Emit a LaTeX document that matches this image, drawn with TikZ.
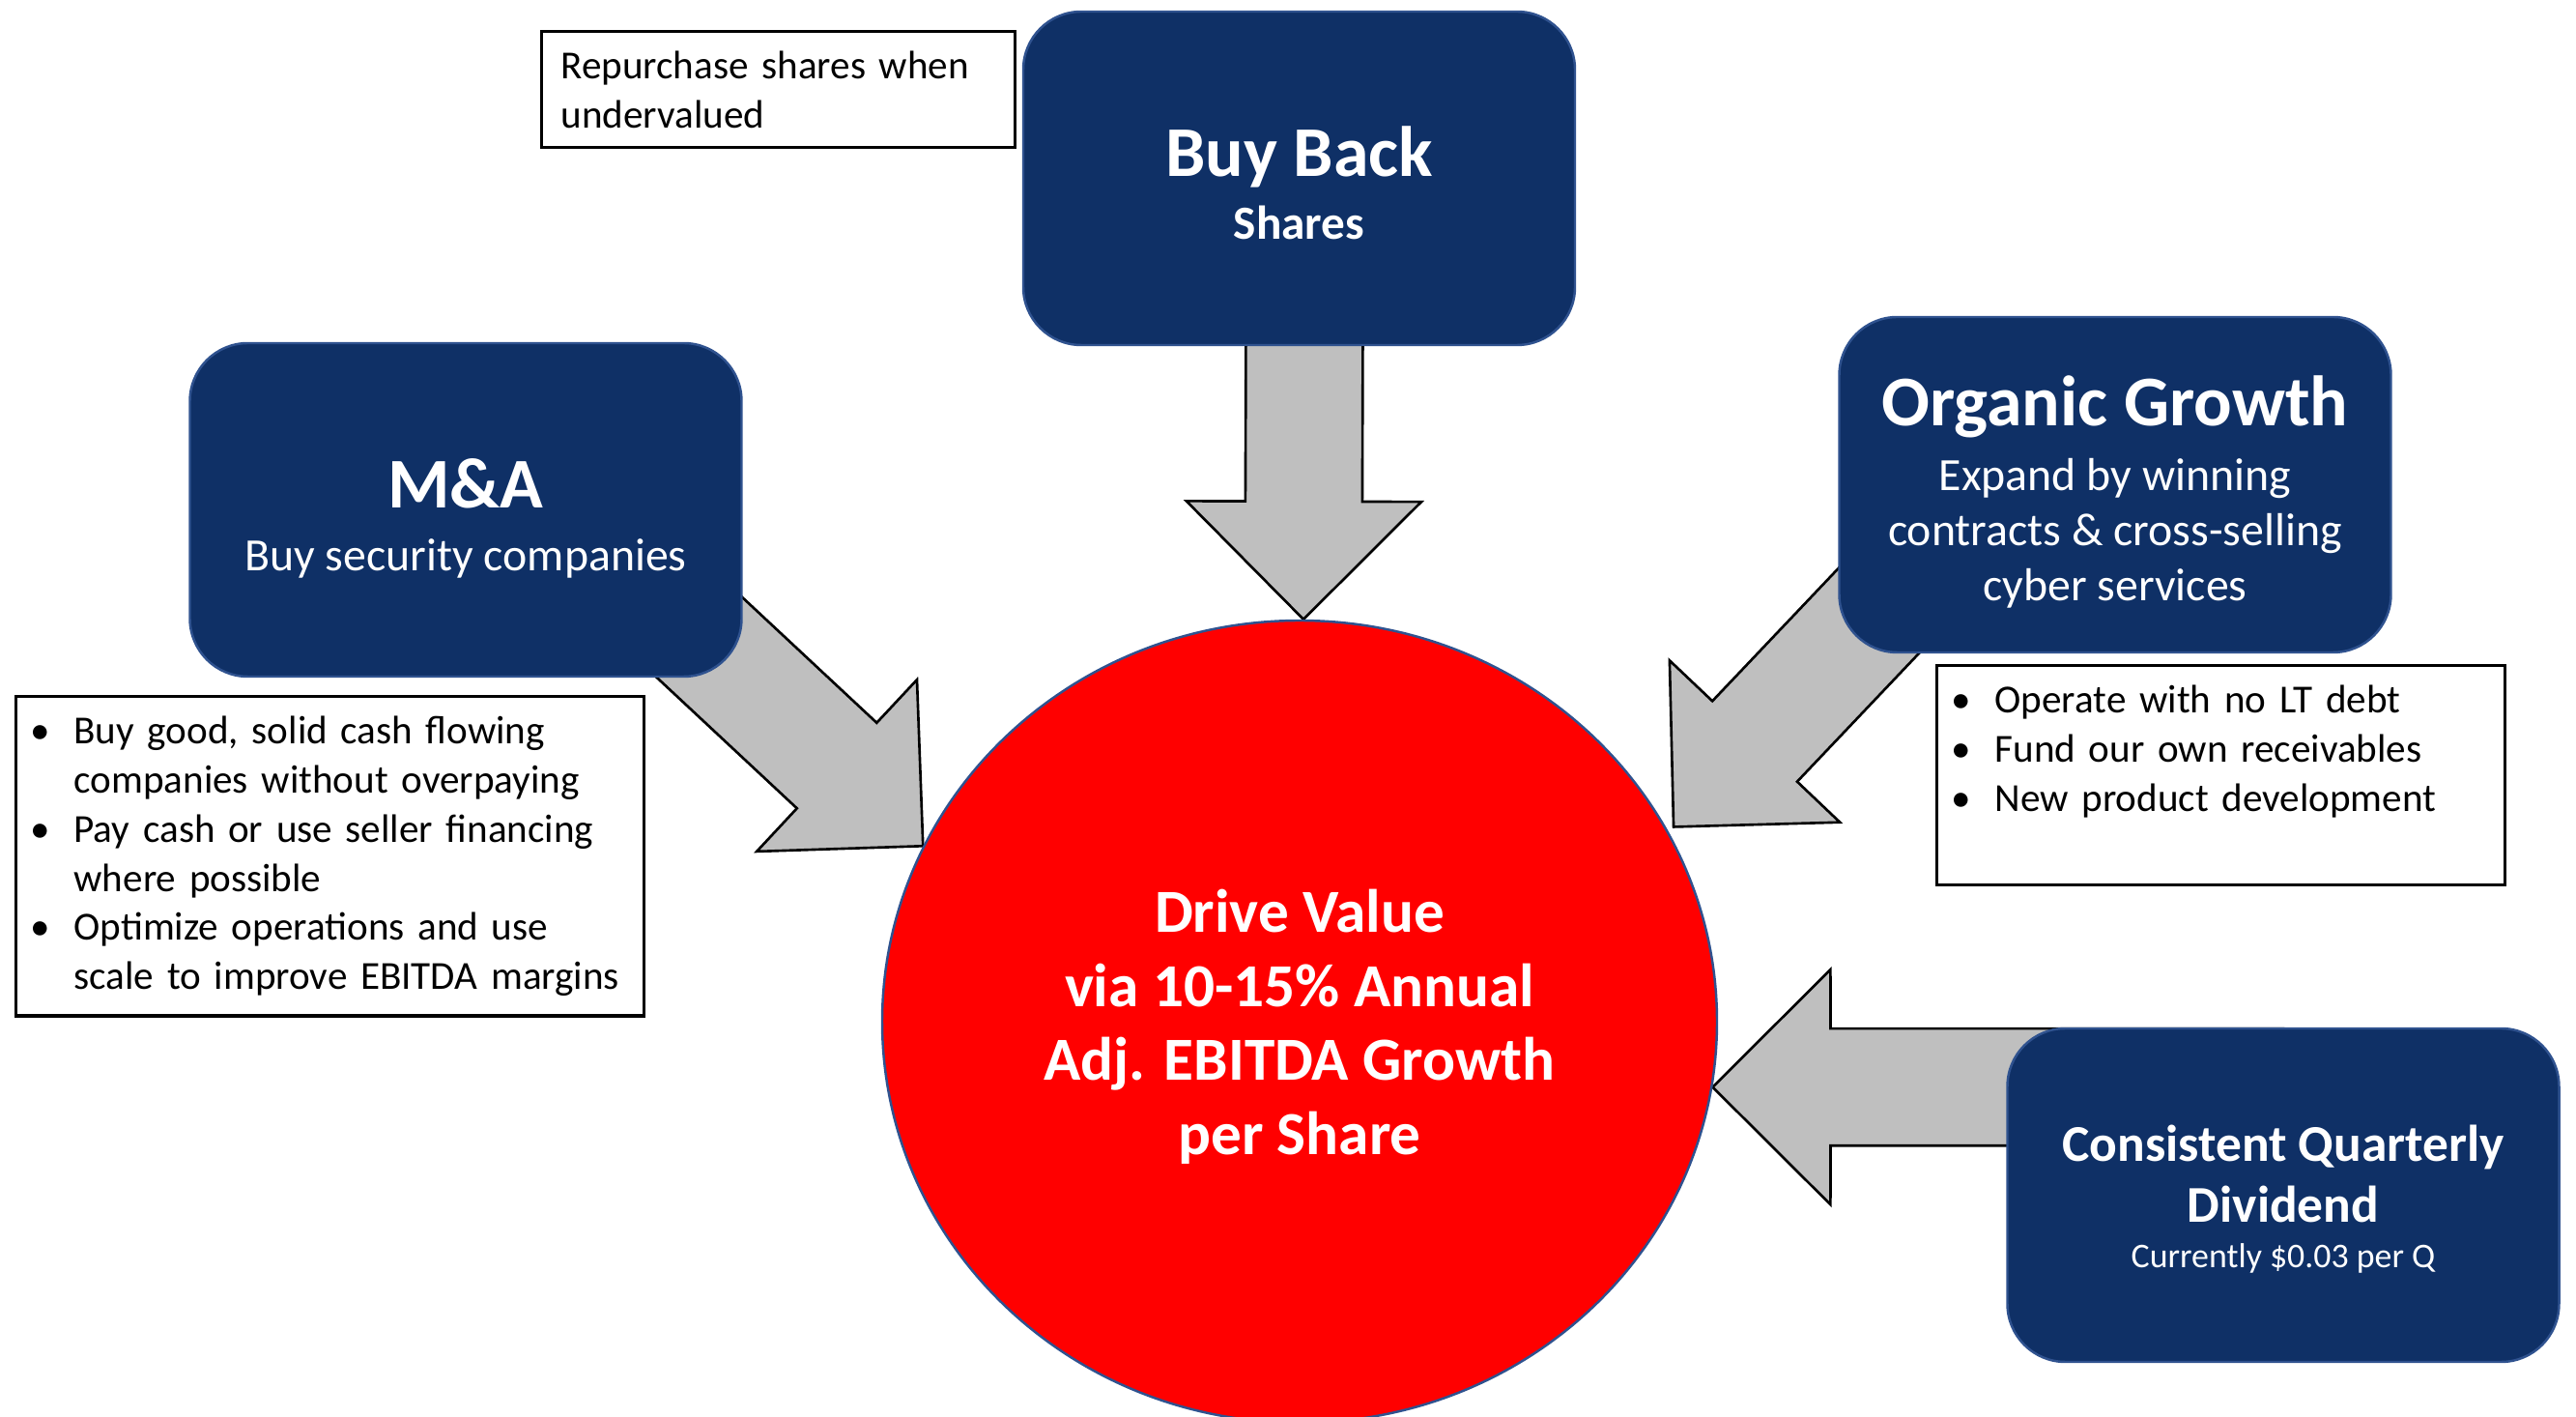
\documentclass[tikz,border=0pt]{standalone}
\usepackage{fontspec}
\setmainfont{Carlito}
\usepackage{tikz}
\usetikzlibrary{calc}
\usetikzlibrary{shapes.geometric}
\pgfdeclarelayer{background}
\pgfsetlayers{background,main}

\definecolor{navy}{HTML}{0F3066}
\definecolor{navyedge}{HTML}{2F528F}
\definecolor{arrowgray}{HTML}{BFBFBF}

\newcommand{\boxtitle}{\fontsize{21}{25}\selectfont\bfseries}
\newcommand{\lift}[1]{\rule{0pt}{#1}}
\newcommand{\bulletline}[1]{\hangindent=0.4cm\hangafter=1\makebox[0.4cm][l]{\hspace{-0.05cm}\textbullet}#1\par}
% block arrow from #1 (hidden end) to #2 (tip)
\newcommand{\fatarrow}[2]{%
  \draw[arrowbody] (#2)
    -- ($(#2)!1.722cm!44.9:(#1)$)
    -- ($(#2)!1.362cm!26.38:(#1)$)
    -- ($(#1)!0.605cm!-90:(#2)$)
    -- ($(#1)!0.605cm!90:(#2)$)
    -- ($(#2)!1.362cm!-26.38:(#1)$)
    -- ($(#2)!1.722cm!-44.9:(#1)$)
    -- cycle;}

\begin{document}
\begin{tikzpicture}[
  navybox/.style={rectangle, rounded corners=0.6cm, draw=navyedge, line width=0.7pt,
    fill=navy, text=white, align=center, minimum width=5.71cm, minimum height=3.45cm},
  notebox/.style={rectangle, draw=black, line width=0.9pt, fill=white, align=left,
    inner xsep=0.2cm, inner ysep=0.2cm, anchor=north west,
    font={\fontsize{11.7}{14.5}\selectfont}},
  hub/.style={ellipse, draw=navyedge, line width=0.7pt, fill=red, text=white,
    align=center, inner sep=0pt, minimum width=8.64cm, minimum height=8.30cm,
    font={\fontsize{18}{21.8}\selectfont\bfseries}},
  arrowbody/.style={draw=black, line width=0.75pt, fill=arrowgray}]

  \useasboundingbox (0,0) rectangle (26.66,14.66);

  \node[hub] (core) at (13.45,4.09)
    {\lift{15.7pt}Drive Value\\via 10-15\% Annual\\Adj. EBITDA Growth\\per Share};

  \node[navybox, font={\fontsize{14}{18.5}\selectfont\bfseries}] (buyback) at (13.445,12.815)
    {{\boxtitle\lift{17.2pt}Buy Back}\\Shares};
  \node[navybox, font={\fontsize{13.6}{18.5}\selectfont}] (ma) at (4.82,9.385)
    {{\boxtitle\lift{19.4pt}M\&A}\\Buy security companies};
  \node[navybox, minimum height=3.47cm, font={\fontsize{13.6}{16.2}\selectfont}] (organic) at (21.89,9.645)
    {{\boxtitle\lift{18.8pt}Organic Growth}\\[2.8pt]Expand by winning\\contracts \& cross-selling\\cyber services};
  \node[navybox, font={\fontsize{15.2}{17.9}\selectfont\bfseries}] (dividend) at (23.63,2.295)
    {\lift{13.1pt}Consistent Quarterly\\Dividend\\[-4.5pt]{\fontsize{10.2}{12}\selectfont\mdseries Currently \$0.03 per Q}};

  \node[notebox, text width=4.5cm] (repurchase) at (5.59,14.35)
    {Repurchase shares when\\undervalued};
  \node[notebox, text width=6.1cm] (manotes) at (0.15,7.47)
    {\bulletline{Buy good, solid cash flowing\newline companies without overpaying}
     \bulletline{Pay cash or use seller financing\newline where possible}
     \bulletline{Optimize operations and use\newline scale to improve EBITDA margins}};
  \node[notebox, text width=5.48cm, text depth=1.58cm] (orgnotes) at (20.03,7.79)
    {\bulletline{Operate with no LT debt}
     \bulletline{Fund our own receivables}
     \bulletline{New product development}};

  \coordinate (tipbb) at ($(core.north)+(0.04,0)$);
  \coordinate (srcbb) at ($(buyback.center)+(0.06,0)$);
  \coordinate (tipma) at (core.155);
  \coordinate (tiporg) at ($(core.28)+(0.08,0)$);
  \coordinate (tipdiv) at (core.-9.5);
  \coordinate (srcma) at ($(tipma)!1.6!(ma.south east)$);
  \coordinate (srcorg) at ($(tiporg)!1.6!(organic.south west)$);
  \coordinate (srcdiv) at (tipdiv -| dividend.center);

  \begin{pgfonlayer}{background}
    \fatarrow{srcbb}{tipbb}
    \fatarrow{srcma}{tipma}
    \fatarrow{srcorg}{tiporg}
    \fatarrow{srcdiv}{tipdiv}
  \end{pgfonlayer}

\end{tikzpicture}
\end{document}
